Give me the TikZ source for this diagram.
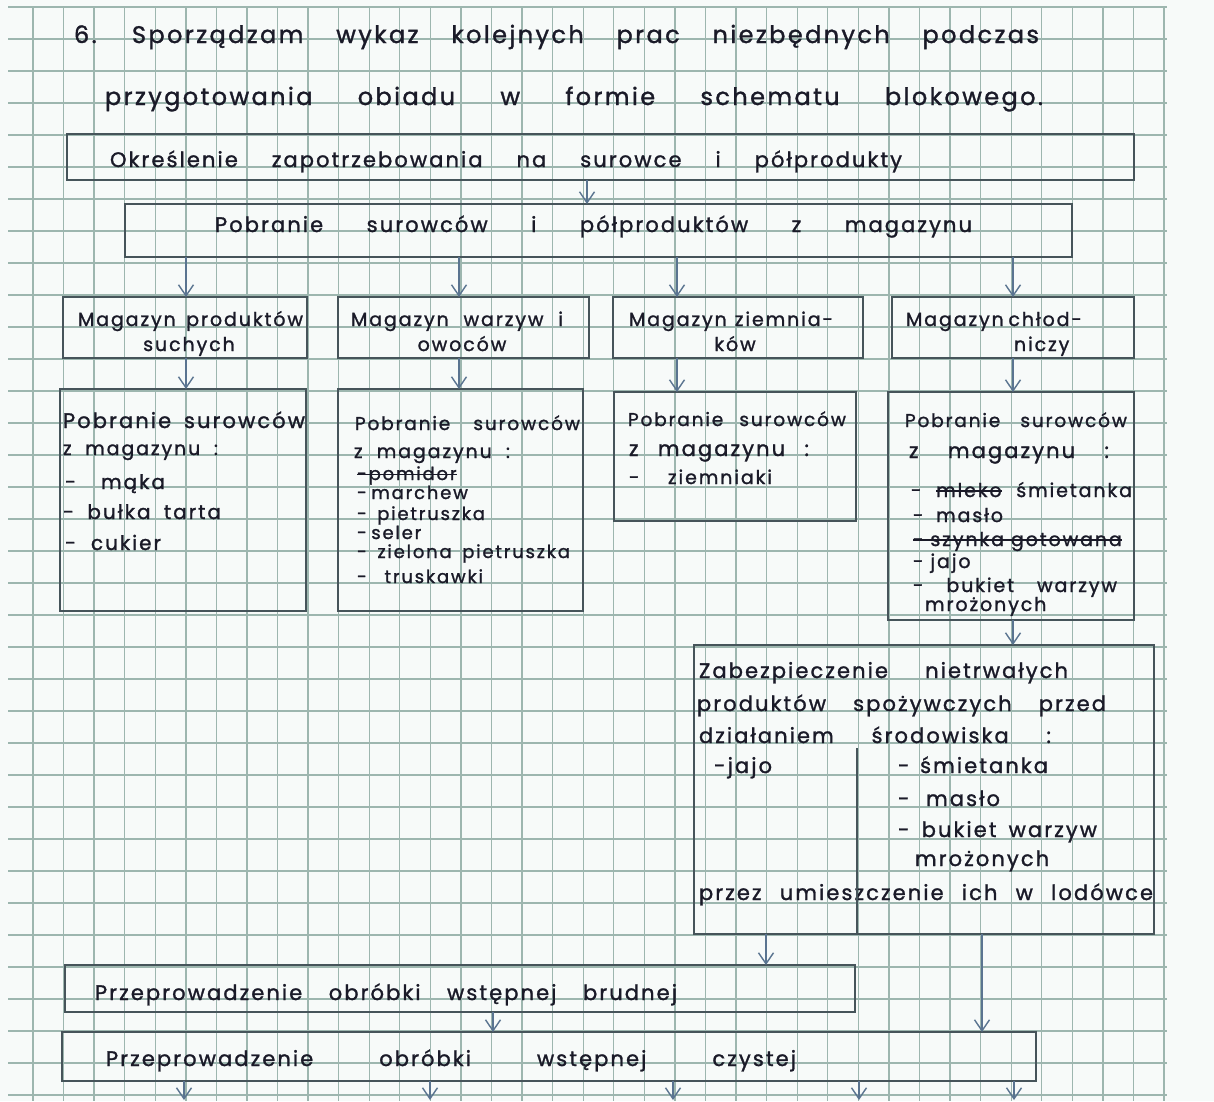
\documentclass[tikz,border=0pt]{standalone}
\usepackage{fontspec}
\setmainfont{Poppins}[LetterSpace=10, FakeBold=1.3]
\usetikzlibrary{arrows.meta}
\definecolor{paper}{HTML}{F7FAF9}
\definecolor{gridc}{HTML}{9DB6AF}
\definecolor{ink}{HTML}{1A1A28}
\definecolor{boxc}{HTML}{46545A}
\definecolor{arrc}{HTML}{5A7490}
\newsavebox\strkbox
\newcommand\strk[1]{\leavevmode\sbox\strkbox{#1}\rlap{\raisebox{0.28em}{\rule{\wd\strkbox}{0.07em}}}\usebox\strkbox}
\tikzset{
  gridl/.style={draw=gridc, line width=1.3pt},
  box/.style={draw=boxc, line width=1.9pt, inner sep=0pt, outer sep=0pt, anchor=north west},
  arr/.style={draw=arrc, line width=1.4pt, -{Straight Barb[length=11pt,width=15pt]}},
  txt/.style={inner sep=0pt, outer sep=0pt, anchor=base west, text=ink, font=\fontsize{21}{25}\selectfont},
  title/.style={txt, font=\fontsize{24}{28}\selectfont},
  small/.style={txt, font=\fontsize{18}{21}\selectfont},
  hdr/.style={txt, font=\fontsize{18.5}{22}\selectfont},
  mid/.style={txt, font=\fontsize{19}{22}\selectfont},
  item/.style={txt, font=\fontsize{20}{24}\selectfont},
}
\newcommand\TL[6][txt]{\node[#1] (#2) at (#3,#4) {\makebox[#5pt][s]{#6}};}
\begin{document}
\begin{tikzpicture}[x=1pt,y=-1pt]
\useasboundingbox (0,0) rectangle (1214,1101);
\fill[paper] (0,0) rectangle (1214,1101);
% grid
\foreach \k in {0,...,37} \draw[gridl] ({33+30.57*\k},7) -- ({33+30.57*\k},1101);
\foreach \k in {0,...,34} \draw[gridl] (8,{7+32*\k}) -- (1167,{7+32*\k});

% title
\node[title] (h0) at (74,43) {6.};
\TL[title]{h1}{132}{43}{907}{Sporządzam wykaz kolejnych prac niezbędnych podczas}
\TL[title]{h2}{105}{105}{938}{przygotowania obiadu w formie schematu blokowego.}

% boxes
\node[box, minimum width=1067pt, minimum height=46pt] (b1) at (67,134) {};
\node[box, minimum width=947pt, minimum height=53pt] (b2) at (125,204) {};
\node[box, minimum width=244pt, minimum height=61pt] (m1) at (63,297) {};
\node[box, minimum width=251pt, minimum height=61pt] (m2) at (338,297) {};
\node[box, minimum width=250pt, minimum height=61pt] (m3) at (613,297) {};
\node[box, minimum width=242pt, minimum height=61pt] (m4) at (892,297) {};
\node[box, minimum width=246pt, minimum height=222pt] (p1) at (60,389) {};
\node[box, minimum width=245pt, minimum height=222pt] (p2) at (338,389) {};
\node[box, minimum width=242pt, minimum height=129pt] (p3) at (614,392) {};
\node[box, minimum width=246pt, minimum height=228pt] (p4) at (888,392) {};
\node[box, minimum width=460pt, minimum height=289pt] (b5) at (694,645) {};
\node[box, minimum width=790pt, minimum height=47pt] (br) at (65,965) {};
\node[box, minimum width=974pt, minimum height=49pt] (cz) at (62,1032) {};

% texts
\TL{t1}{110}{167}{792}{Określenie zapotrzebowania na surowce i półprodukty}
\TL{t2}{215}{232}{757}{Pobranie surowców i półproduktów z magazynu}

\TL[mid]{m1a}{78}{326}{225}{Magazyn produktów}
\node[mid, anchor=base] (m1b) at (189,351) {suchych};
\TL[mid]{m2a}{351}{326}{212}{Magazyn warzyw i}
\node[mid, anchor=base] (m2b) at (462,351) {owoców};
\TL[mid]{m3a}{629}{326}{204}{Magazyn ziemnia-}
\node[mid, anchor=base] (m3b) at (735,351) {ków};
\TL[mid]{m4a}{906}{326}{165}{Magazyn chłod-}
\node[mid, anchor=base west] (m4b) at (1014,351) {niczy};

\TL{p1a}{63}{428}{242}{Pobranie surowców}
\TL[mid]{p1b}{63}{455}{155}{z magazynu :}
\TL[item]{p1c}{65}{489}{100}{- mąka}
\TL[item]{p1d}{63}{519}{158}{- bułka tarta}
\TL[item]{p1e}{65}{550}{96}{- cukier}

\TL[hdr]{p2a}{355}{430}{225}{Pobranie surowców}
\TL[mid]{p2b}{354}{458}{156}{z magazynu :}
\node[small] (p2c) at (357,480) {\strk{-pomidor}};
\TL[small]{p2d}{357}{499}{96}{- marchew}
\TL[small]{p2e}{357}{520}{128}{- pietruszka}
\TL[small]{p2f}{357}{539}{58}{- seler}
\TL[small]{p2g}{357}{558}{213}{- zielona pietruszka}
\TL[small]{p2h}{357}{583}{126}{- truskawki}

\TL[hdr]{p3a}{628}{426}{218}{Pobranie surowców}
\TL{p3b}{629}{456}{180}{z magazynu :}
\TL[mid]{p3c}{629}{484}{143}{- ziemniaki}

\TL[hdr]{p4a}{905}{427}{222}{Pobranie surowców}
\TL{p4b}{909}{458}{200}{z magazynu :}
\TL[mid]{p4c}{911}{497}{221}{- \strk{mleko} śmietanka}
\TL[mid]{p4d}{913}{522}{90}{- masło}
\node[mid] (p4e) at (913,546) {\strk{- szynka gotowana}};
\node[mid] (p4f) at (913,568) {- jajo};
\TL[mid]{p4g}{913}{592}{204}{- bukiet warzyw}
\node[mid] (p4h) at (925,611) {mrożonych};

\TL{q1}{699}{678}{369}{Zabezpieczenie nietrwałych}
\TL{q2}{697}{711}{409}{produktów spożywczych przed}
\TL{q3}{699}{743}{352}{działaniem środowiska :}
\node[txt] (q4) at (714,773) {-jajo};
\TL{q5}{898}{773}{150}{- śmietanka}
\TL{q6}{898}{806}{102}{- masło}
\TL{q7}{898}{837}{199}{- bukiet warzyw}
\node[txt] (q8) at (915,866) {mrożonych};
\TL{q9}{699}{900}{454}{przez umieszczenie ich w lodówce}

\TL{r1}{95}{1000}{582}{Przeprowadzenie obróbki wstępnej brudnej}
\TL{r2}{106}{1066}{690}{Przeprowadzenie obróbki wstępnej czystej}

% divider in box 5
\coordinate (dv) at (857,748);
\draw[draw=boxc, line width=1.2pt] (dv) -- (dv |- b5.south);

% arrow x positions
\coordinate (xa) at (587,0);
\coordinate (xb) at (186,0);
\coordinate (xc) at (459,0);
\coordinate (xd) at (677,0);
\coordinate (xe) at (1013,0);
\coordinate (xf) at (766,0);
\coordinate (xg) at (982,0);
\coordinate (xh) at (493,0);
\draw[arr] (b1.south -| xa) -- (b2.north -| xa);
\draw[arr] (b2.south -| xb) -- (m1.north -| xb);
\draw[arr] (b2.south -| xc) -- (m2.north -| xc);
\draw[arr] (b2.south -| xd) -- (m3.north -| xd);
\draw[arr] (b2.south -| xe) -- (m4.north -| xe);
\draw[arr] (m1.south -| xb) -- (p1.north -| xb);
\draw[arr] (m2.south -| xc) -- (p2.north -| xc);
\draw[arr] (m3.south -| xd) -- (p3.north -| xd);
\draw[arr] (m4.south -| xe) -- (p4.north -| xe);
\draw[arr] (p4.south -| xe) -- (b5.north -| xe);
\draw[arr] (b5.south -| xf) -- (br.north -| xf);
\draw[arr] (b5.south -| xg) -- (cz.north -| xg);
\draw[arr] (br.south -| xh) -- (cz.north -| xh);
\coordinate (e1) at (184,1100);
\coordinate (e2) at (430,1100);
\coordinate (e3) at (673,1100);
\coordinate (e4) at (859,1100);
\coordinate (e5) at (1014,1100);
\foreach \e in {e1,e2,e3,e4,e5} \draw[arr] (cz.south -| \e) -- (\e);
\end{tikzpicture}
\end{document}
